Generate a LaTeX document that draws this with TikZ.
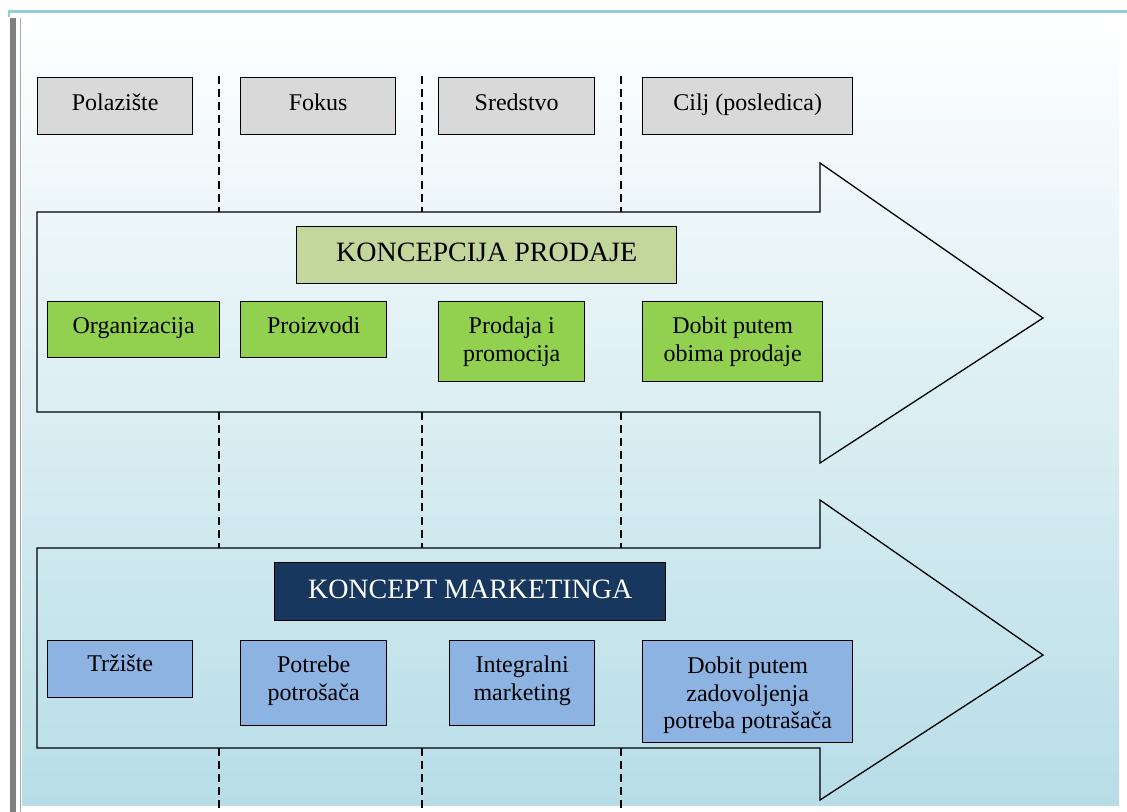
\documentclass[tikz,border=0pt]{standalone}
\usepackage{fontspec}
\setmainfont{Liberation Serif}
\newdimen\pxu \pxu=0.75pt
\definecolor{framebl}{RGB}{146,205,220}
\definecolor{bgbot}{RGB}{183,221,231}
\definecolor{greyfill}{RGB}{217,217,217}
\definecolor{olivefill}{RGB}{195,214,155}
\definecolor{greenfill}{RGB}{146,208,80}
\definecolor{navyfill}{RGB}{23,55,94}
\definecolor{bluefill}{RGB}{141,179,226}
% lines of a box, first baseline on top
\newcommand{\boxlines}[1]{\begin{tabular}[t]{@{}c@{}}#1\end{tabular}}
\tikzset{
  box/.style={draw=black, line width=1.4\pxu, inner sep=0pt, anchor=north west,
    font=\fontsize{18}{20.7}\selectfont},
  headbox/.style={box, fill=greyfill},
  salebox/.style={box, fill=greenfill},
  mktbox/.style={box, fill=bluefill},
  titlebox/.style={box, font=\fontsize{21}{25}\selectfont},
  arrowshape/.style={draw=black, line width=1.3\pxu, line join=miter},
  divider/.style={draw=black, line width=1.6\pxu, dash pattern=on 6pt off 3.8pt}
}
\begin{document}
\begin{tikzpicture}[x=0.75pt,y=-0.75pt]
\useasboundingbox (0,0) rectangle (1127,812);
% page background and frame
\fill[white] (0,0) rectangle (1127,812);
\shade[top color=white, bottom color=bgbot] (22,13) rectangle (1119,806);
\fill[framebl] (8,10) rectangle (1127,13);
\fill[framebl] (8,10) rectangle (10,17);
\fill[black!50] (10,18) rectangle (16,812);
\fill[black!35] (19.5,18) rectangle (21,812);
\fill[white] (22,806) rectangle (1127,808);

% column dividers
\foreach \i/\x in {1/219,2/422,3/621}{
  \coordinate (t\i) at (\x,76);
  \coordinate (a\i) at (\x,212);
  \coordinate (b\i) at (\x,412);
  \coordinate (c\i) at (\x,548);
  \coordinate (d\i) at (\x,748);
  \coordinate (e\i) at (\x,812);
  \draw[divider] (t\i) -- (a\i);
  \draw[divider] (b\i) -- (c\i);
  \draw[divider] (d\i) -- (e\i);
}

% block arrows
\draw[arrowshape] (37,212) -- (820,212) -- (820,163) -- (1043,318)
  -- (820,463) -- (820,412) -- (37,412) -- cycle;
\draw[arrowshape] (37,548) -- (820,548) -- (820,500) -- (1043,655)
  -- (820,800) -- (820,748) -- (37,748) -- cycle;

% column headings
\node[headbox, minimum width=155\pxu, text height=33\pxu, text depth=24\pxu] (pol) at (37,77) {Polazište};
\node[headbox, minimum width=155\pxu, text height=33\pxu, text depth=24\pxu] (fok) at (240,77) {Fokus};
\node[headbox, minimum width=156\pxu, text height=33\pxu, text depth=24\pxu] (sre) at (438,77) {Sredstvo};
\node[headbox, minimum width=210\pxu, text height=33\pxu, text depth=24\pxu] (cil) at (642,77) {Cilj (posledica)};

% selling concept
\node[titlebox, fill=olivefill, minimum width=380\pxu, text height=35\pxu, text depth=22\pxu] (kp) at (296,226) {KONCEPCIJA PRODAJE};
\node[salebox, minimum width=172\pxu, text height=32\pxu, text depth=24\pxu] (org) at (47,301) {Organizacija};
\node[salebox, minimum width=146\pxu, text height=32\pxu, text depth=24\pxu] (pro) at (240,301) {Proizvodi};
\node[salebox, minimum width=146\pxu, text height=32\pxu, text depth=48\pxu] (prp) at (438,301) {\boxlines{Prodaja i\\promocija}};
\node[salebox, minimum width=180\pxu, text height=32\pxu, text depth=48\pxu] (dob) at (642,301) {\boxlines{Dobit putem\\obima prodaje}};

% marketing concept
\node[titlebox, fill=navyfill, text=white, minimum width=391\pxu, text height=36\pxu, text depth=22\pxu] (km) at (274,562) {KONCEPT MARKETINGA};
\node[mktbox, minimum width=145\pxu, text height=31\pxu, text depth=26\pxu] (trz) at (47,640) {Tržište};
\node[mktbox, minimum width=146\pxu, text height=32\pxu, text depth=53\pxu] (ptr) at (240,640) {\boxlines{Potrebe\\potrošača}};
\node[mktbox, minimum width=145\pxu, text height=32\pxu, text depth=53\pxu] (int) at (449,640) {\boxlines{Integralni\\marketing}};
\node[mktbox, minimum width=210\pxu, text height=33\pxu, text depth=69\pxu] (dzp) at (642,640) {\boxlines{Dobit putem\\zadovoljenja\\potreba potrašača}};
\end{tikzpicture}
\end{document}
